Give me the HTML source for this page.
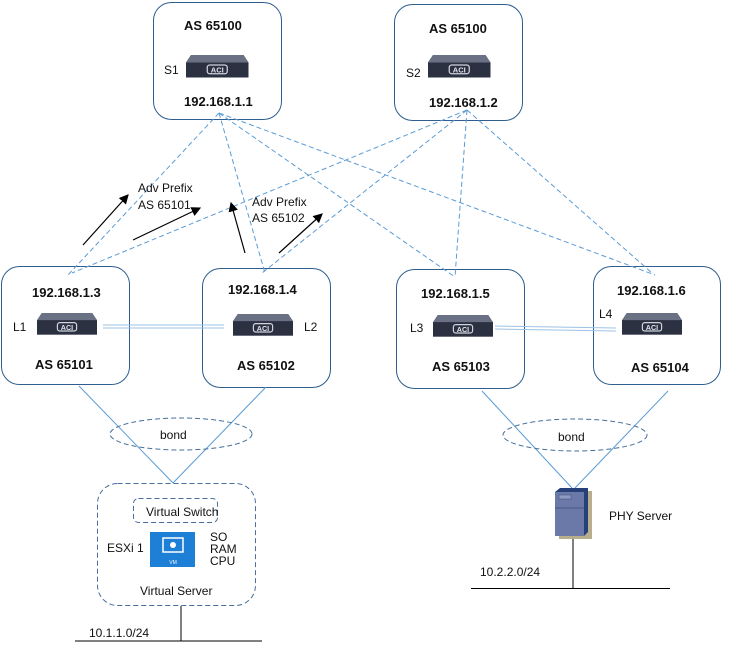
<!DOCTYPE html>
<html><head><meta charset="utf-8"><style>
body{margin:0;background:#fff}
svg{display:block;font-family:"Liberation Sans",sans-serif}
.b{font-weight:bold;font-size:13px;fill:#111}
.t{font-size:12px;fill:#111}
</style></head><body>
<svg width="742" height="658" viewBox="0 0 742 658" xmlns="http://www.w3.org/2000/svg">
<defs>
<g id="sw">
<path d="M4,0 H46 L50,6 V18 H0 V6 Z" fill="#3a3f50"/>
<path d="M4,0 H46 L50,6 H0 Z" fill="#6b7184"/>
<rect x="0" y="6" width="50" height="12" fill="#2c3142"/>
<rect x="17" y="8" width="16" height="7" rx="2" fill="none" stroke="#cfd3dd" stroke-width="1"/>
<text x="25" y="14" font-size="6" fill="#e0e3ea" text-anchor="middle" font-weight="bold">ACI</text>
</g>
<marker id="ar" markerWidth="8" markerHeight="8" refX="7" refY="4" orient="auto"><path d="M0,0 L8,4 L0,8 Z" fill="#000"/></marker>
</defs>
<!-- boxes -->
<g fill="#fff" stroke="#2e5d8e" stroke-width="1">
<rect x="153.5" y="2.5" width="128" height="117" rx="18"/>
<rect x="394.5" y="4.5" width="128" height="116" rx="18"/>
<rect x="1.5" y="266.5" width="128" height="118" rx="18"/>
<rect x="202.5" y="268.5" width="128" height="119" rx="18"/>
<rect x="396.5" y="269.5" width="128" height="119" rx="18"/>
<rect x="593.5" y="266.5" width="127" height="118" rx="18"/>
</g>
<!-- dashed spine-leaf links -->
<g stroke="#5b9bd5" stroke-width="1" stroke-dasharray="5,3" fill="none">
<line x1="219" y1="113" x2="68" y2="275"/>
<line x1="219" y1="113" x2="265" y2="273"/>
<line x1="219" y1="113" x2="455" y2="277"/>
<line x1="219" y1="113" x2="655" y2="275"/>
<line x1="467" y1="110" x2="72" y2="273"/>
<line x1="467" y1="110" x2="262" y2="273"/>
<line x1="467" y1="110" x2="455" y2="277"/>
<line x1="467" y1="110" x2="652" y2="273"/>
</g>
<!-- arrows -->
<g stroke="#000" stroke-width="1.2" marker-end="url(#ar)">
<line x1="83" y1="245" x2="128" y2="195"/>
<line x1="133" y1="240" x2="200" y2="208"/>
<line x1="245" y1="253" x2="231" y2="203"/>
<line x1="279" y1="253" x2="322" y2="214"/>
</g>
<text x="138" y="192" class="t">Adv Prefix</text>
<text x="138" y="209" class="t">AS 65101</text>
<text x="252" y="206" class="t">Adv Prefix</text>
<text x="252" y="222" class="t">AS 65102</text>
<!-- switches -->
<use href="#sw" transform="translate(186,55) scale(1.25)"/>
<use href="#sw" transform="translate(428,55) scale(1.25)"/>
<use href="#sw" transform="translate(37,313) scale(1.2)"/>
<use href="#sw" transform="translate(233,314) scale(1.2)"/>
<use href="#sw" transform="translate(433,315) scale(1.2)"/>
<use href="#sw" transform="translate(622,313) scale(1.2)"/>
<!-- peer links -->
<g stroke="#9dc3e6" stroke-width="1">
<line x1="103" y1="325" x2="224" y2="325"/><line x1="103" y1="328" x2="224" y2="328"/>
<line x1="495" y1="326" x2="616" y2="328"/><line x1="495" y1="329" x2="616" y2="331"/>
</g>
<!-- labels -->
<text x="184" y="30" class="b">AS 65100</text>
<text x="164" y="74" class="t" font-size="13">S1</text>
<text x="184" y="106" class="b">192.168.1.1</text>
<text x="429" y="33" class="b">AS 65100</text>
<text x="406" y="77" class="t" font-size="13">S2</text>
<text x="429" y="107" class="b">192.168.1.2</text>
<text x="32" y="297" class="b">192.168.1.3</text>
<text x="13" y="331" class="t" font-size="13">L1</text>
<text x="35" y="369" class="b">AS 65101</text>
<text x="228" y="294" class="b">192.168.1.4</text>
<text x="304" y="331" class="t" font-size="13">L2</text>
<text x="237" y="370" class="b">AS 65102</text>
<text x="421" y="298" class="b">192.168.1.5</text>
<text x="410" y="332" class="t" font-size="13">L3</text>
<text x="432" y="371" class="b">AS 65103</text>
<text x="617" y="295" class="b">192.168.1.6</text>
<text x="599" y="318" class="t" font-size="13">L4</text>
<text x="631" y="372" class="b">AS 65104</text>
<!-- server uplinks -->
<g stroke="#5b9bd5" stroke-width="1" fill="none">
<line x1="79" y1="386" x2="173" y2="483"/>
<line x1="266" y1="387" x2="173" y2="483"/>
<line x1="482" y1="391" x2="572" y2="488"/>
<line x1="668" y1="391" x2="575" y2="488"/>
</g>
<g fill="none" stroke="#466f9a" stroke-width="1" stroke-dasharray="5,3">
<ellipse cx="181" cy="434" rx="71" ry="16"/>
<ellipse cx="575" cy="435" rx="72" ry="16"/>
<rect x="97.5" y="483.5" width="158" height="122" rx="20"/>
<rect x="133.5" y="498.5" width="84" height="24" rx="5"/>
</g>
<text x="160" y="439" class="t" font-size="13">bond</text>
<text x="558" y="441" class="t" font-size="13">bond</text>
<text x="146" y="516" class="t" font-size="10">Virtual Switch</text>
<text x="107" y="552" class="t" font-size="11">ESXi 1</text>
<rect x="150" y="532" width="45" height="35" fill="#1e7fd6"/>
<rect x="163" y="538" width="20" height="14" fill="none" stroke="#fff" stroke-width="1.5"/>
<circle cx="173" cy="545" r="3" fill="#fff"/>
<text x="173" y="564" font-size="5" fill="#fff" text-anchor="middle">VM</text>
<text x="210" y="541" class="t" font-size="10">SO</text>
<text x="210" y="553" class="t" font-size="10">RAM</text>
<text x="210" y="565" class="t" font-size="10">CPU</text>
<text x="140" y="595" class="t" font-size="13">Virtual Server</text>
<!-- bottom networks -->
<g stroke="#000" stroke-width="1">
<line x1="181" y1="606" x2="181" y2="641"/>
<line x1="75" y1="641" x2="262" y2="641"/>
<line x1="573" y1="538" x2="573" y2="588"/>
<line x1="471" y1="588.5" x2="670" y2="588.5"/>
</g>
<text x="89" y="637" class="t">10.1.1.0/24</text>
<text x="480" y="576" class="t">10.2.2.0/24</text>
<!-- PHY server -->
<rect x="559" y="491" width="33" height="48" fill="#b8ad8c"/>
<path d="M560,488 L555,492 V536 H584 L588,532 V488 Z" fill="#26407a"/>
<rect x="555" y="492" width="29" height="44" fill="#6a79a8"/>
<line x1="555" y1="508" x2="584" y2="508" stroke="#4a5886"/>
<rect x="559" y="495" width="12" height="4" fill="#8d9ac2" stroke="#3b4a7a" stroke-width="0.5"/>
<text x="609" y="520" class="t" font-size="13">PHY Server</text>
</svg>
</body></html>
